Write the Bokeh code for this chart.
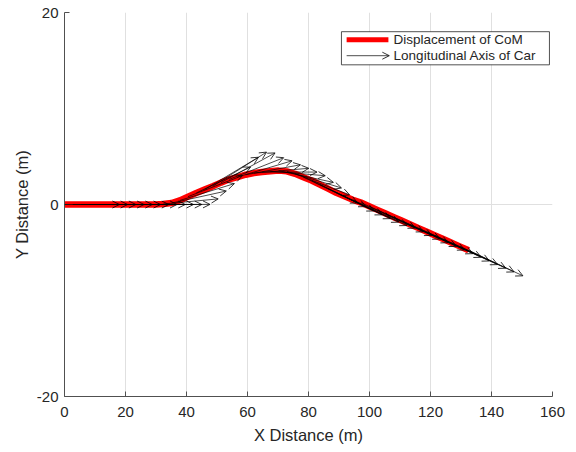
import math
from bokeh.plotting import figure
from bokeh.models import (ColumnDataSource, Arrow, OpenHead, Range1d, FixedTicker,
                          BoxAnnotation, Label)
from bokeh.embed import file_html
from bokeh.resources import INLINE

# ---- data ----
com_x = [0.0, 2.7, 5.4, 8.1, 10.8, 13.5, 16.2, 18.9, 21.6, 24.3,
         27.0, 29.7, 32.4, 35.1, 37.8, 40.5, 43.2, 45.9, 48.6, 51.3,
         54.0, 56.7, 59.4, 62.1, 64.8, 67.5, 70.2, 72.9, 75.6, 78.3,
         81.0, 83.7, 86.4, 89.1, 91.8, 94.5, 97.2, 99.9, 102.6, 105.3,
         108.0, 110.7, 113.4, 116.1, 118.8, 121.5, 124.2, 126.9, 129.6, 132.5]
com_y = [0.0, 0.0, 0.0, 0.0, 0.0, 0.0, 0.0, 0.0, 0.0, 0.0,
         0.0, 0.01, 0.05, 0.15, 0.42, 0.82, 1.20, 1.55, 1.90, 2.28,
         2.62, 2.86, 3.10, 3.27, 3.38, 3.47, 3.53, 3.45, 3.20, 2.85,
         2.50, 2.08, 1.65, 1.22, 0.85, 0.50, 0.20, -0.18, -0.56, -0.94,
         -1.32, -1.70, -2.08, -2.46, -2.84, -3.22, -3.60, -3.98, -4.36, -4.77]
heading_deg = [0.0, 0.0, 0.0, 0.0, 0.0, 0.0, 0.0, 0.0, 0.0, 0.0,
               0.0, 0.0, 1.7, 4.0, 5.6, 7.0, 8.6, 10.8, 11.4, 9.9,
               7.2, 5.4, 3.3, 1.6, 0.0, -1.5, -3.9, -5.5, -7.0, -8.6,
               -8.7, -8.8, -8.7, -8.6, -8.6, -8.6, -8.5, -8.5, -8.5, -8.5,
               -8.5, -8.5, -8.5, -8.5, -8.5, -8.5, -8.5, -8.5, -8.5, -8.5]
arrow_length = 18.0

x_ticks = [0, 20, 40, 60, 80, 100, 120, 140, 160]
y_ticks = [-20, 0, 20]
y_tick_labels = {-20: "-20", 0: "0", 20: "20"}

series_labels = ["Displacement of CoM", "Longitudinal Axis of Car"]

FONT = "Liberation Sans"
TXT = "#262626"

tip_x = [x + arrow_length * math.cos(math.radians(h)) for x, h in zip(com_x, heading_deg)]
tip_y = [y + arrow_length * math.sin(math.radians(h)) for y, h in zip(com_y, heading_deg)]

p = figure(width=576, height=452, x_range=Range1d(0, 160), y_range=Range1d(-20, 20),
           output_backend="svg", toolbar_location=None,
           min_border_left=64, min_border_right=24, min_border_top=12, min_border_bottom=56)

p.background_fill_color = "white"
p.border_fill_color = "white"
p.outline_line_color = None

p.xaxis.ticker = FixedTicker(ticks=x_ticks)
p.yaxis.ticker = FixedTicker(ticks=y_ticks)
p.yaxis.major_label_overrides = y_tick_labels
for ax in (p.xaxis, p.yaxis):
    ax.major_tick_in = 5
    ax.major_tick_out = 0
    ax.minor_tick_line_color = None
    ax.axis_line_color = "#505050"
    ax.major_tick_line_color = "#505050"
    ax.major_label_text_font = FONT
    ax.major_label_text_font_size = "15px"
    ax.major_label_text_color = TXT
    ax.axis_label_text_font = FONT
    ax.axis_label_text_font_size = "16.5px"
    ax.axis_label_text_font_style = "normal"
    ax.axis_label_text_color = TXT
p.xaxis.axis_label = "X Distance (m)"
p.yaxis.axis_label = "Y Distance (m)"
p.xaxis.major_label_standoff = 10
p.yaxis.major_label_standoff = 6
p.xaxis.axis_label_standoff = 6
p.yaxis.axis_label_standoff = 3

p.xgrid.grid_line_color = "#e0e0e0"
p.ygrid.grid_line_color = "#e0e0e0"

# CoM path
p.line(com_x, com_y, line_color="#ff0000", line_width=6.5)

# Longitudinal axis arrows (quiver)
src = ColumnDataSource(dict(x0=com_x, y0=com_y, x1=tip_x, y1=tip_y))
p.add_layout(Arrow(end=OpenHead(size=7, line_color="black", line_width=0.8),
                   x_start="x0", y_start="y0", x_end="x1", y_end="y1", source=src,
                   line_color="black", line_width=0.7))

# Legend (drawn manually)
p.add_layout(BoxAnnotation(left=90.8, right=159.0, top=18.0, bottom=14.55,
                           fill_color="white", fill_alpha=1.0,
                           line_color="#262626", line_width=0.8, line_alpha=1.0))
p.add_layout(Arrow(end=None, x_start=92.5, y_start=17.15, x_end=106.2, y_end=17.15,
                   line_color="#ff0000", line_width=5))
p.add_layout(Arrow(end=OpenHead(size=7, line_color="black", line_width=0.8),
                   x_start=92.5, y_start=15.5, x_end=106.5, y_end=15.5,
                   line_color="black", line_width=0.7))
p.add_layout(Label(x=107.9, y=17.15, text=series_labels[0], text_baseline="middle",
                   text_font=FONT, text_font_size="13.5px", text_color=TXT))
p.add_layout(Label(x=107.9, y=15.5, text=series_labels[1], text_baseline="middle",
                   text_font=FONT, text_font_size="13.5px", text_color=TXT))

open("out.html", "w").write(file_html(p, INLINE))
